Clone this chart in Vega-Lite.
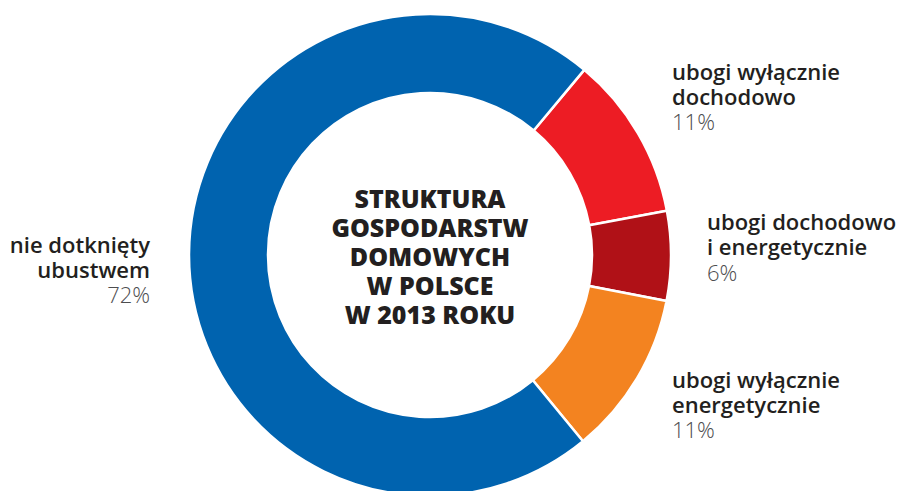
{
  "$schema": "https://vega.github.io/schema/vega-lite/v6.json",
  "width": 860,
  "height": 472,
  "autosize": {"type": "none"},
  "padding": {"left": 0, "top": 19, "right": 40, "bottom": 0},
  "background": "white",
  "config": {"view": {"stroke": null}},
  "data": {
    "values": [
      {"ord": 1, "cat": "dochodowo", "name": "ubogi wyłącznie\ndochodowo", "value": 11, "pct": "11%"},
      {"ord": 2, "cat": "oba", "name": "ubogi dochodowo\ni energetycznie", "value": 6, "pct": "6%"},
      {"ord": 3, "cat": "energetycznie", "name": "ubogi wyłącznie\nenergetycznie", "value": 11, "pct": "11%"},
      {"ord": 4, "cat": "nie", "name": "nie dotknięty\nubustwem", "value": 72, "pct": "72%"}
    ]
  },
  "encoding": {
    "theta": {"field": "value", "type": "quantitative", "stack": true, "scale": {"domain": [0, 100], "range": [0.6946, 6.9778]}},
    "order": {"field": "ord", "type": "quantitative"}
  },
  "layer": [
    {
      "mark": {"type": "arc", "outerRadius": 241, "innerRadius": 162, "stroke": "white", "strokeWidth": 2.5},
      "encoding": {
        "color": {"field": "cat", "type": "nominal", "legend": null,
          "scale": {"domain": ["dochodowo", "oba", "energetycznie", "nie"], "range": ["#ed1c24", "#b01117", "#f38320", "#0063af"]}}
      }
    },
    {
      "mark": {"type": "text", "radius": 280.6, "align": "left", "baseline": "alphabetic", "dy": -33, "lineBreak": "\n", "lineHeight": 25, "font": "Open Sans", "fontSize": 22, "fontWeight": 600, "color": "#231f20"},
      "encoding": {"text": {"condition": {"test": "datum.ord === 1", "field": "name"}, "value": ""}}
    },
    {
      "mark": {"type": "text", "radius": 280.6, "align": "left", "baseline": "alphabetic", "dy": 17, "font": "Open Sans", "fontSize": 22, "fontWeight": 300, "color": "#4d4d4f"},
      "encoding": {"text": {"condition": {"test": "datum.ord === 1", "field": "pct"}, "value": ""}}
    },
    {
      "mark": {"type": "text", "radius": 277, "align": "left", "baseline": "alphabetic", "dy": -26, "lineBreak": "\n", "lineHeight": 25, "font": "Open Sans", "fontSize": 22, "fontWeight": 600, "color": "#231f20"},
      "encoding": {"text": {"condition": {"test": "datum.ord === 2", "field": "name"}, "value": ""}}
    },
    {
      "mark": {"type": "text", "radius": 277, "align": "left", "baseline": "alphabetic", "dy": 25, "font": "Open Sans", "fontSize": 22, "fontWeight": 300, "color": "#4d4d4f"},
      "encoding": {"text": {"condition": {"test": "datum.ord === 2", "field": "pct"}, "value": ""}}
    },
    {
      "mark": {"type": "text", "radius": 281.7, "align": "left", "baseline": "alphabetic", "dy": -11, "lineBreak": "\n", "lineHeight": 25, "font": "Open Sans", "fontSize": 22, "fontWeight": 600, "color": "#231f20"},
      "encoding": {"text": {"condition": {"test": "datum.ord === 3", "field": "name"}, "value": ""}}
    },
    {
      "mark": {"type": "text", "radius": 281.7, "align": "left", "baseline": "alphabetic", "dy": 39, "font": "Open Sans", "fontSize": 22, "fontWeight": 300, "color": "#4d4d4f"},
      "encoding": {"text": {"condition": {"test": "datum.ord === 3", "field": "pct"}, "value": ""}}
    },
    {
      "mark": {"type": "text", "radius": 280, "align": "right", "baseline": "alphabetic", "dy": -1, "lineBreak": "\n", "lineHeight": 25, "font": "Open Sans", "fontSize": 22, "fontWeight": 600, "color": "#231f20"},
      "encoding": {"text": {"condition": {"test": "datum.ord === 4", "field": "name"}, "value": ""}}
    },
    {
      "mark": {"type": "text", "radius": 280, "align": "right", "baseline": "alphabetic", "dy": 49, "font": "Open Sans", "fontSize": 22, "fontWeight": 300, "color": "#4d4d4f"},
      "encoding": {"text": {"condition": {"test": "datum.ord === 4", "field": "pct"}, "value": ""}}
    },
    {
      "data": {"values": [{"title": "STRUKTURA\nGOSPODARSTW\nDOMOWYCH\nW POLSCE\nW 2013 ROKU"}]},
      "mark": {"type": "text", "align": "center", "baseline": "middle", "dy": -55, "lineBreak": "\n", "lineHeight": 29, "font": "Open Sans", "fontSize": 25, "fontWeight": 800, "color": "#231f20"},
      "encoding": {"text": {"field": "title", "type": "nominal"}, "theta": null, "order": null}
    }
  ]
}
